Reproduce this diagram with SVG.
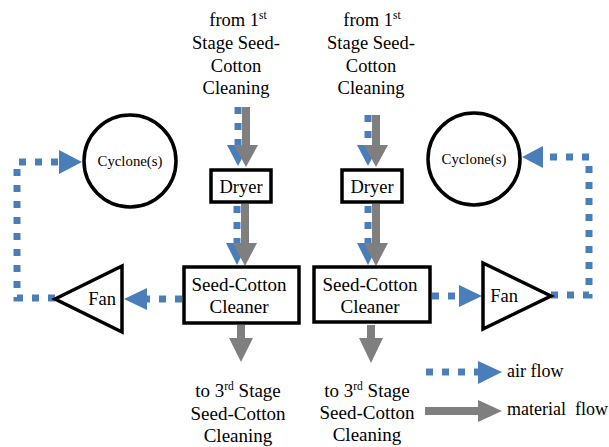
<svg xmlns="http://www.w3.org/2000/svg" width="609" height="447" viewBox="0 0 609 447">
<style>
.box{fill:#fff;stroke:#000;stroke-width:3.5}
.air{fill:none;stroke:#4A7EBB;stroke-width:7;stroke-dasharray:7 9}
.airh{fill:#4A7EBB}
.mat{fill:none;stroke:#7F7F7F;stroke-width:8}
.math{fill:#7F7F7F}
</style>
<rect width="609" height="447" fill="#fff"/>
<g id="connectors">
  <path class="air" d="M238 107V145"/>
  <polygon class="airh" points="227,145 249,145 238,166"/>
  <path class="mat" d="M246 107V146"/>
  <polygon class="math" points="234,145 258,145 246,167"/>
  <path class="air" d="M237 206V243"/>
  <polygon class="airh" points="226,243 248,243 237,265"/>
  <path class="mat" d="M245 204V244"/>
  <polygon class="math" points="233,243 257,243 245,266"/>
  <path class="mat" d="M241 325V339"/>
  <polygon class="math" points="229,338 253,338 241,362"/>
  <path class="air" d="M368 115V145"/>
  <polygon class="airh" points="357,145 379,145 368,166"/>
  <path class="mat" d="M376 115V146"/>
  <polygon class="math" points="364,145 388,145 376,167"/>
  <path class="air" d="M368 206V243"/>
  <polygon class="airh" points="357,243 379,243 368,265"/>
  <path class="mat" d="M376 204V244"/>
  <polygon class="math" points="364,243 388,243 376,266"/>
  <path class="mat" d="M371 325V339"/>
  <polygon class="math" points="359,338 383,338 371,363"/>
  <path class="air" d="M182 299H147"/>
  <polygon class="airh" points="147,288 147,310 124,299"/>
  <path class="air" d="M55 298H17V162H60"/>
  <polygon class="airh" points="59,150 59,174 82,162"/>
  <path class="air" d="M432 296H459"/>
  <polygon class="airh" points="459,285 459,307 482,296"/>
  <path class="air" d="M551 295H589V157H543"/>
  <polygon class="airh" points="543,146 543,168 522,157"/>
  <path class="air" d="M426 372H478"/>
  <polygon class="airh" points="478,361 478,384 502,372"/>
  <path class="mat" d="M425 411H479"/>
  <polygon class="math" points="478,400 478,422 502,411"/>
</g>
<g id="src-left">
  <text style="font-family:'Liberation Serif',serif;font-size:18.5px;text-anchor:middle" x="238" y="26">from 1<tspan style="font-size:11.5px" dy="-7">st</tspan></text>
  <text style="font-family:'Liberation Serif',serif;font-size:18.5px;text-anchor:middle" x="236" y="49">Stage Seed-</text>
  <text style="font-family:'Liberation Serif',serif;font-size:18.5px;text-anchor:middle" x="236" y="72">Cotton</text>
  <text style="font-family:'Liberation Serif',serif;font-size:18.5px;text-anchor:middle" x="236" y="94">Cleaning</text>
</g>
<g id="src-right">
  <text style="font-family:'Liberation Serif',serif;font-size:18.5px;text-anchor:middle" x="372" y="26">from 1<tspan style="font-size:11.5px" dy="-7">st</tspan></text>
  <text style="font-family:'Liberation Serif',serif;font-size:18.5px;text-anchor:middle" x="371" y="49">Stage Seed-</text>
  <text style="font-family:'Liberation Serif',serif;font-size:18.5px;text-anchor:middle" x="371" y="72">Cotton</text>
  <text style="font-family:'Liberation Serif',serif;font-size:18.5px;text-anchor:middle" x="371" y="94">Cleaning</text>
</g>
<g id="cyclone-left">
  <circle class="box" cx="130" cy="161" r="46"/>
  <text style="font-family:'Liberation Serif',serif;font-size:14.8px;text-anchor:middle" x="130" y="166">Cyclone(s)</text>
</g>
<g id="cyclone-right">
  <circle class="box" cx="474" cy="159" r="46"/>
  <text style="font-family:'Liberation Serif',serif;font-size:14.8px;text-anchor:middle" x="474" y="164">Cyclone(s)</text>
</g>
<g id="dryer-left">
  <rect class="box" x="211" y="170" width="60" height="32"/>
  <text style="font-family:'Liberation Serif',serif;font-size:18.5px;text-anchor:middle" x="241" y="193">Dryer</text>
</g>
<g id="dryer-right">
  <rect class="box" x="342" y="170" width="60" height="32"/>
  <text style="font-family:'Liberation Serif',serif;font-size:18.5px;text-anchor:middle" x="372" y="193">Dryer</text>
</g>
<g id="cleaner-left">
  <rect class="box" x="184" y="267" width="115" height="56"/>
  <text style="font-family:'Liberation Serif',serif;font-size:19px;text-anchor:middle" x="239" y="291">Seed-Cotton</text>
  <text style="font-family:'Liberation Serif',serif;font-size:19px;text-anchor:middle" x="239" y="313">Cleaner</text>
</g>
<g id="cleaner-right">
  <rect class="box" x="314" y="267" width="116" height="55"/>
  <text style="font-family:'Liberation Serif',serif;font-size:19px;text-anchor:middle" x="370" y="291">Seed-Cotton</text>
  <text style="font-family:'Liberation Serif',serif;font-size:19px;text-anchor:middle" x="370" y="313">Cleaner</text>
</g>
<g id="fan-left">
  <polygon class="box" points="55,299 122,266 122,332"/>
  <text style="font-family:'Liberation Serif',serif;font-size:18.5px;text-anchor:middle" x="102" y="305">Fan</text>
</g>
<g id="fan-right">
  <polygon class="box" points="551,296 483,263 483,329"/>
  <text style="font-family:'Liberation Serif',serif;font-size:18.5px;text-anchor:middle" x="504" y="302">Fan</text>
</g>
<g id="dst-left">
  <text style="font-family:'Liberation Serif',serif;font-size:19px;text-anchor:middle" x="238" y="397">to 3<tspan style="font-size:11.5px" dy="-7">rd</tspan><tspan dy="7"> Stage</tspan></text>
  <text style="font-family:'Liberation Serif',serif;font-size:19px;text-anchor:middle" x="238" y="420">Seed-Cotton</text>
  <text style="font-family:'Liberation Serif',serif;font-size:19px;text-anchor:middle" x="238" y="442">Cleaning</text>
</g>
<g id="dst-right">
  <text style="font-family:'Liberation Serif',serif;font-size:19px;text-anchor:middle" x="367" y="397">to 3<tspan style="font-size:11.5px" dy="-7">rd</tspan><tspan dy="7"> Stage</tspan></text>
  <text style="font-family:'Liberation Serif',serif;font-size:19px;text-anchor:middle" x="367" y="419">Seed-Cotton</text>
  <text style="font-family:'Liberation Serif',serif;font-size:19px;text-anchor:middle" x="367" y="441">Cleaning</text>
</g>
<g id="legend">
  <text style="font-family:'Liberation Serif',serif;font-size:18px" x="507" y="377">air flow</text>
  <text style="font-family:'Liberation Serif',serif;font-size:18px;white-space:pre" x="507" y="415">material  flow</text>
</g>
</svg>
